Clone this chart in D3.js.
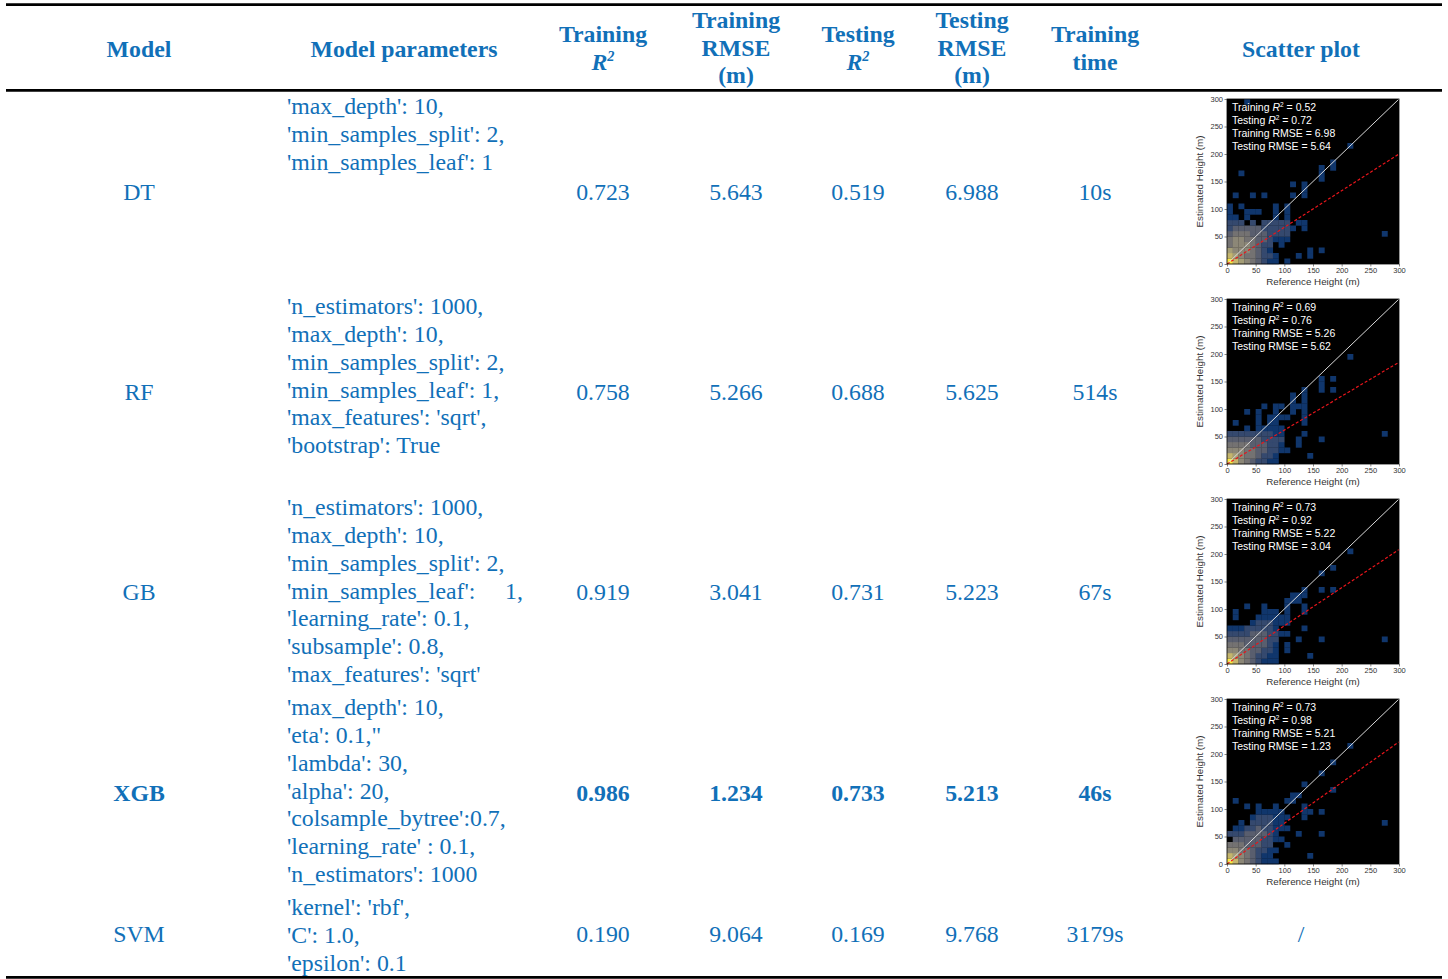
<!DOCTYPE html>
<html><head><meta charset="utf-8">
<script src="https://cdn.jsdelivr.net/npm/d3@7"></script>
<style>body{margin:0;background:#fff;} svg{display:block;}</style>
</head><body><svg id="c" width="1448" height="979"></svg>
<script>
// ---------- table data ----------
const models = ["DT", "RF", "GB", "XGB", "SVM"];
const params = [
  ["'max_depth': 10,", "'min_samples_split': 2,", "'min_samples_leaf': 1"],
  ["'n_estimators': 1000,", "'max_depth': 10,", "'min_samples_split': 2,", "'min_samples_leaf': 1,", "'max_features': 'sqrt',", "'bootstrap': True"],
  ["'n_estimators': 1000,", "'max_depth': 10,", "'min_samples_split': 2,", "'min_samples_leaf':     1,", "'learning_rate': 0.1,", "'subsample': 0.8,", "'max_features': 'sqrt'"],
  ["'max_depth': 10,", "'eta': 0.1,\"", "'lambda': 30,", "'alpha': 20,", "'colsample_bytree':0.7,", "'learning_rate' : 0.1,", "'n_estimators': 1000"],
  ["'kernel': 'rbf',", "'C': 1.0,", "'epsilon': 0.1"]
];
const trainR2 = ["0.723", "0.758", "0.919", "0.986", "0.190"];
const trainRMSE = ["5.643", "5.266", "3.041", "1.234", "9.064"];
const testR2 = ["0.519", "0.688", "0.731", "0.733", "0.169"];
const testRMSE = ["6.988", "5.625", "5.223", "5.213", "9.768"];
const trainTime = ["10s", "514s", "67s", "46s", "3179s"];
const boldModel = "XGB";
const headers = [["Model"], ["Model parameters"], ["Training", "R2"], ["Training", "RMSE", "(m)"],
                 ["Testing", "R2"], ["Testing", "RMSE", "(m)"], ["Training", "time"], ["Scatter plot"]];

// ---------- scatter (2D histogram) data ----------
const plotTrainR2 = ["0.52", "0.69", "0.73", "0.73"];
const plotTestR2 = ["0.72", "0.76", "0.92", "0.98"];
const plotTrainRMSE = ["6.98", "5.26", "5.22", "5.21"];
const plotTestRMSE = ["5.64", "5.62", "3.04", "1.23"];
const fitEndY = [200, 185, 208, 222];   // fitted line value at x = 300
const axisTicks = [0, 50, 100, 150, 200, 250, 300];
const binSize = 10;
// density level per 10 m bin, rows from 0-10 m upward, string index = column
const dtDense = ["976543211.1", "765443221...1.1", "65554321......1.1", "45554322.1", "45544332111",
  "34443332222", "233333222221.1", "222.2.22222.11", "11.1....1.1", "1..111..1.1", "1.1.....1.1"];
const dtSparse = [[3,29],[21,21],[18,18],[18,17],[16,17],[16,16],[2,16],[16,15],[11,14],[13,14],[13,13],
  [1,12],[4,12],[6,12],[11,12],[13,12],[27,5]];
const rfDense = ["975432211", "765443221.....1", "55544332211", "4444333221..1", "3333332222..1...1",
  "2222222211...1", "...1.11111", ".1...1.11....1", ".....1.1111..1", "...1.1..1..1.1", "......1.11.111"];
const rfSparse = [[21,19],[16,15],[18,15],[16,14],[13,13],[16,13],[18,13],[11,12],[13,12],[13,11],[11,11],[27,5]];
const gbDense = ["975432111", "765432211.....1", "554433221.1", "444333321.1", "333333322...1...1",
  "22223332211", "111222221....1", "....1222111", ".1...111111", ".1....111.1..1", "...1..1...1..1"];
const gbSparse = [[21,20],[18,17],[16,16],[13,13],[16,13],[18,13],[11,12],[12,12],[13,12],[10,11],[11,11],[12,11],[27,4]];
const xgbDense = ["975432111", "76543211......1", "554432211", "44433322..1", ".333332211",
  "222333321...1...1", ".1122322111", "..1.222211", "....1222111..1", ".....11111...11.1", "...1.1..1....1"];
const xgbSparse = [[21,21],[18,18],[16,16],[13,14],[18,13],[11,12],[12,12],[1,11],[10,11],[11,11],[27,7]];
const denseGrids = [dtDense, rfDense, gbDense, xgbDense];
const sparseCells = [dtSparse, rfSparse, gbSparse, xgbSparse];

// ---------- drawing ----------
const svg = d3.select("#c");
const BLUE = "#1170b8";
const SERIF = "'Liberation Serif','Times New Roman',serif";
const SANS = "'Liberation Sans',Arial,sans-serif";
const FS = 23.8;
const BL = 7.3;

// rules
[[4.7, 2.8], [90.3, 2.8], [977.3, 2.8]].forEach(([y, w]) =>
  svg.append("line").attr("x1", 6).attr("x2", 1442).attr("y1", y).attr("y2", y)
    .attr("stroke", "#000").attr("stroke-width", w));

const colX = [139, 404, 603, 736, 858, 972, 1095, 1301];

// headers
headers.forEach((lines, i) => {
  const n = lines.length;
  const sp = 27.5;
  const c0 = n === 1 ? 49.5 : 48.5 - (n - 1) * sp / 2;
  lines.forEach((ln, j) => {
    const t = svg.append("text").attr("x", colX[i]).attr("y", c0 + j * sp + BL)
      .attr("text-anchor", "middle").attr("font-family", SERIF).attr("font-weight", "bold")
      .attr("font-size", FS).attr("fill", BLUE);
    if (ln === "R2") {
      t.append("tspan").attr("font-style", "italic").text("R");
      t.append("tspan").attr("font-size", FS * 0.6).attr("dy", -9).attr("font-style", "italic").text("2");
    } else t.text(ln);
  });
});

// body rows
const rowCenter = [193, 393, 593, 794, 935];
const paramTop = [107, 307, 508, 708, 908];
const paramStep = 27.75;
models.forEach((m, i) => {
  const bold = m === boldModel ? "bold" : "normal";
  const vals = [m, null, trainR2[i], trainRMSE[i], testR2[i], testRMSE[i], trainTime[i]];
  vals.forEach((v, k) => {
    if (v === null) return;
    svg.append("text").attr("x", colX[k]).attr("y", rowCenter[i] + BL)
      .attr("text-anchor", "middle").attr("font-family", SERIF).attr("font-weight", bold)
      .attr("font-size", FS).attr("fill", BLUE).text(v);
  });
  params[i].forEach((p, j) => {
    svg.append("text").attr("x", 287).attr("y", paramTop[i] + j * paramStep + BL)
      .attr("font-family", SERIF).attr("font-size", FS).attr("fill", BLUE)
      .style("white-space", "pre").text(p);
  });
});
// SVM has no scatter plot
svg.append("text").attr("x", colX[7]).attr("y", rowCenter[4] + BL).attr("text-anchor", "middle")
  .attr("font-family", SERIF).attr("font-size", FS).attr("fill", BLUE).text("/");

// scatter panels
const panelTop = [99, 299, 499, 699];
const level = l => d3.interpolateCividis(0.12 + (l - 1) * 0.11);
panelTop.forEach((top, i) => {
  const x = d3.scaleLinear().domain([0, 300]).range([1227, 1399]);
  const y = d3.scaleLinear().domain([0, 300]).range([top + 165, top]);
  const g = svg.append("g");
  g.append("rect").attr("x", x(0)).attr("y", y(300)).attr("width", x(300) - x(0))
    .attr("height", y(0) - y(300)).attr("fill", "#000");
  const cells = [];
  denseGrids[i].forEach((row, r) => row.split("").forEach((ch, c) => {
    if (ch !== ".") cells.push([c, r, +ch]);
  }));
  sparseCells[i].forEach(([c, r]) => cells.push([c, r, 1]));
  g.selectAll(null).data(cells).enter().append("rect")
    .attr("x", d => x(d[0] * binSize)).attr("y", d => y((d[1] + 1) * binSize))
    .attr("width", x(binSize) - x(0) + 0.2).attr("height", y(0) - y(binSize) + 0.2)
    .attr("fill", d => level(d[2]));
  // 1:1 line
  g.append("line").attr("x1", x(0)).attr("y1", y(0)).attr("x2", x(300)).attr("y2", y(300))
    .attr("stroke", "#d8d8d8").attr("stroke-width", 1);
  // fitted line
  g.append("line").attr("x1", x(0)).attr("y1", y(0)).attr("x2", x(300)).attr("y2", y(fitEndY[i]))
    .attr("stroke", "#e8151b").attr("stroke-width", 1.2).attr("stroke-dasharray", "3,2");
  // frame
  g.append("rect").attr("x", x(0)).attr("y", y(300)).attr("width", x(300) - x(0))
    .attr("height", y(0) - y(300)).attr("fill", "none").attr("stroke", "#000").attr("stroke-width", 0.8);
  // axes
  const ax = g.append("g").attr("transform", `translate(0,${y(0)})`)
    .call(d3.axisBottom(x).tickValues(axisTicks).tickSize(2.5).tickPadding(1.5));
  const ay = g.append("g").attr("transform", `translate(${x(0)},0)`)
    .call(d3.axisLeft(y).tickValues(axisTicks).tickSize(2.5).tickPadding(1.5));
  [ax, ay].forEach(a => {
    a.select(".domain").remove();
    a.selectAll("text").attr("font-family", SANS).attr("font-size", 7.5).attr("fill", "#333");
    a.selectAll("line").attr("stroke", "#333").attr("stroke-width", 0.6);
  });
  g.append("text").attr("x", (x(0) + x(300)) / 2).attr("y", y(0) + 21).attr("text-anchor", "middle")
    .attr("font-family", SANS).attr("font-size", 9.8).attr("fill", "#333").text("Reference Height (m)");
  g.append("text").attr("transform", `translate(${1203},${(y(0) + y(300)) / 2}) rotate(-90)`)
    .attr("text-anchor", "middle").attr("font-family", SANS).attr("font-size", 9.8).attr("fill", "#333")
    .text("Estimated Height (m)");
  // annotation
  const ann = [["Training ", true, plotTrainR2[i]], ["Testing ", true, plotTestR2[i]],
               ["Training RMSE", false, plotTrainRMSE[i]], ["Testing RMSE", false, plotTestRMSE[i]]];
  ann.forEach(([lab, isR2, v], j) => {
    const t = g.append("text").attr("x", x(0) + 5).attr("y", top + 12 + j * 13)
      .attr("font-family", SANS).attr("font-size", 10.5).attr("fill", "#fff");
    t.append("tspan").text(lab);
    if (isR2) {
      t.append("tspan").attr("font-style", "italic").text("R");
      t.append("tspan").attr("font-size", 6.5).attr("dy", -4).text("2");
      t.append("tspan").attr("dy", 4).text(" = " + v);
    } else t.append("tspan").text(" = " + v);
  });
});
</script></body></html>
